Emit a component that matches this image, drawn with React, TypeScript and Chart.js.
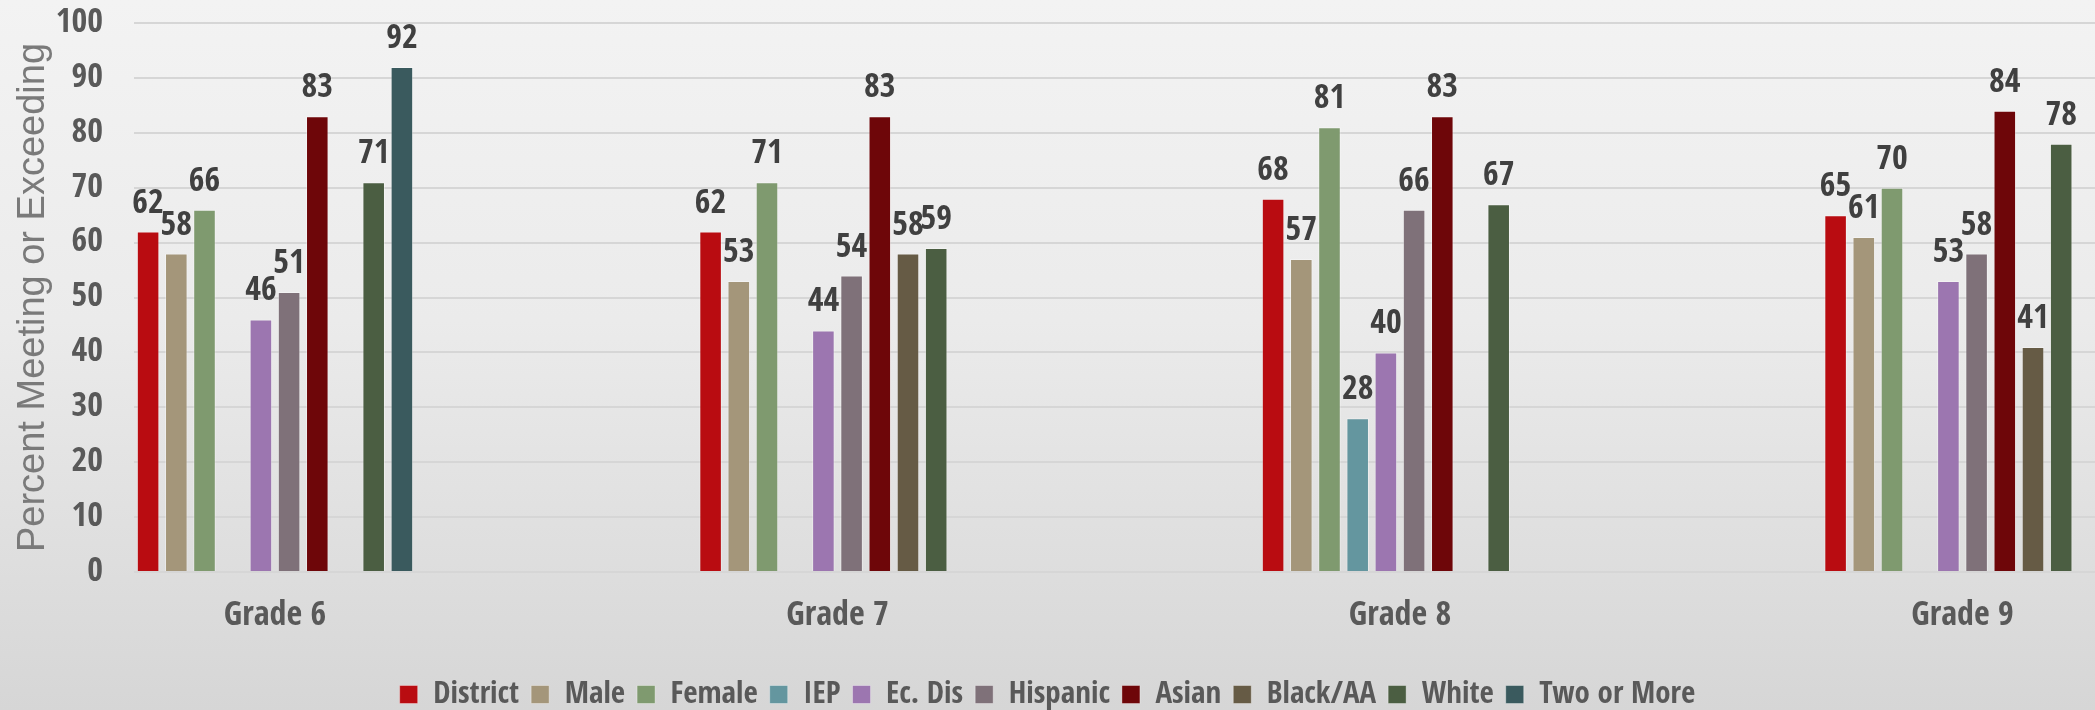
import React, { useEffect, useRef } from 'react';
import { Chart, registerables } from 'chart.js';

Chart.register(...registerables);

const grades = ['Grade 6', 'Grade 7', 'Grade 8', 'Grade 9'];
const seriesNames = ['District', 'Male', 'Female', 'IEP', 'Ec. Dis', 'Hispanic', 'Asian', 'Black/AA', 'White', 'Two or More'];
const seriesColors = ['#B90C11', '#A4967A', '#7F9A6F', '#64969F', '#9C76B0', '#7F7179', '#6E0609', '#665B45', '#4B5E42', '#3A5A5E'];

const district = [62, 62, 68, 65];
const male = [58, 53, 57, 61];
const female = [66, 71, 81, 70];
const iep = [null, null, 28, null];
const ecDis = [46, 44, 40, 53];
const hispanic = [51, 54, 66, 58];
const asian = [83, 83, 83, 84];
const blackAA = [null, 58, null, 41];
const white = [71, 59, 67, 78];
const twoOrMore = [92, null, null, null];

const seriesValues = [district, male, female, iep, ecDis, hispanic, asian, blackAA, white, twoOrMore];
const yTicks = [0, 10, 20, 30, 40, 50, 60, 70, 80, 90, 100];
const yTitle = 'Percent Meeting or Exceeding';

const NARROW = "'Open Sans Condensed', 'Roboto Condensed', 'DejaVu Sans Condensed', sans-serif";
const REGULAR = "'Liberation Sans', Arial, sans-serif";

const valueLabels = {
  id: 'valueLabels',
  afterDatasetsDraw(chart: any) {
    const ctx = chart.ctx;
    ctx.save();
    ctx.font = `800 34px ${NARROW}`;
    ctx.fillStyle = '#404040';
    ctx.textAlign = 'center';
    ctx.textBaseline = 'alphabetic';
    chart.data.datasets.forEach((ds: any, i: number) => {
      const meta = chart.getDatasetMeta(i);
      meta.data.forEach((bar: any, j: number) => {
        const v = ds.data[j].y;
        if (v == null) return;
        ctx.fillText(String(v), bar.x, bar.y - 19);
      });
    });
    ctx.restore();
  },
};

export default function App() {
  const ref = useRef<HTMLCanvasElement>(null);

  useEffect(() => {
    if (!ref.current) return;
    const datasets = seriesNames.map((name, i) => ({
      label: name,
      data: seriesValues[i].map((v, j) => ({ x: j, y: v })),
      backgroundColor: seriesColors[i],
      borderColor: 'rgba(255,255,255,0.35)',
      borderWidth: 1,
      categoryPercentage: 282 / 562.5,
      barPercentage: 0.8,
    }));
    const chart = new Chart(ref.current, {
      type: 'bar',
      data: { datasets },
      plugins: [valueLabels],
      options: {
        animation: false,
        responsive: false,
        devicePixelRatio: 1,
        layout: { padding: { top: 23, right: 0, left: 0, bottom: -10 } },
        plugins: {
          tooltip: { enabled: false },
          legend: {
            position: 'bottom',
            labels: {
              boxWidth: 18,
              boxHeight: 18,
              padding: 12,
              color: '#595959',
              font: { family: NARROW, size: 31, weight: '800' },
            },
          },
        },
        scales: {
          x: {
            type: 'linear',
            offset: false,
            min: -141 / 562.5,
            max: -141 / 562.5 + 1961 / 562.5,
            afterBuildTicks: (scale: any) => {
              scale.ticks = grades.map((_, i) => ({ value: i }));
            },
            afterFit: (scale: any) => {
              scale.height = 95;
            },
            grid: { display: false, drawTicks: false },
            border: { display: false },
            ticks: {
              padding: 24,
              color: '#595959',
              font: { family: NARROW, size: 34, weight: '800' },
              callback: (v: any) => grades[v] ?? '',
              autoSkip: false,
              maxRotation: 0,
            },
          },
          y: {
            min: 0,
            max: 100,
            afterBuildTicks: (scale: any) => {
              scale.ticks = yTicks.map((v) => ({ value: v }));
            },
            afterFit: (scale: any) => {
              scale.width = 134;
              scale.paddingTop = 0;
              scale.paddingBottom = 0;
            },
            grid: { color: '#d6d6d6', lineWidth: 2, drawTicks: false },
            border: { display: false },
            ticks: {
              padding: 31,
              color: '#595959',
              font: { family: NARROW, size: 34, weight: '800' },
            },
            title: {
              display: true,
              text: yTitle,
              color: '#7a7a7a',
              padding: { top: 11, bottom: 0 },
              font: { family: REGULAR, size: 38, weight: 'normal' },
            },
          },
        },
      },
    } as any);
    return () => chart.destroy();
  }, []);

  return (
    <div
      style={{
        position: 'fixed',
        left: 0,
        top: 0,
        width: 2095,
        height: 710,
        overflow: 'hidden',
        background: 'linear-gradient(180deg, #f3f3f3 0%, #ebebeb 45%, #d6d6d6 100%)',
      }}
    >
      <canvas ref={ref} width={2095} height={710} style={{ display: 'block', width: 2095, height: 710 }} />
    </div>
  );
}
